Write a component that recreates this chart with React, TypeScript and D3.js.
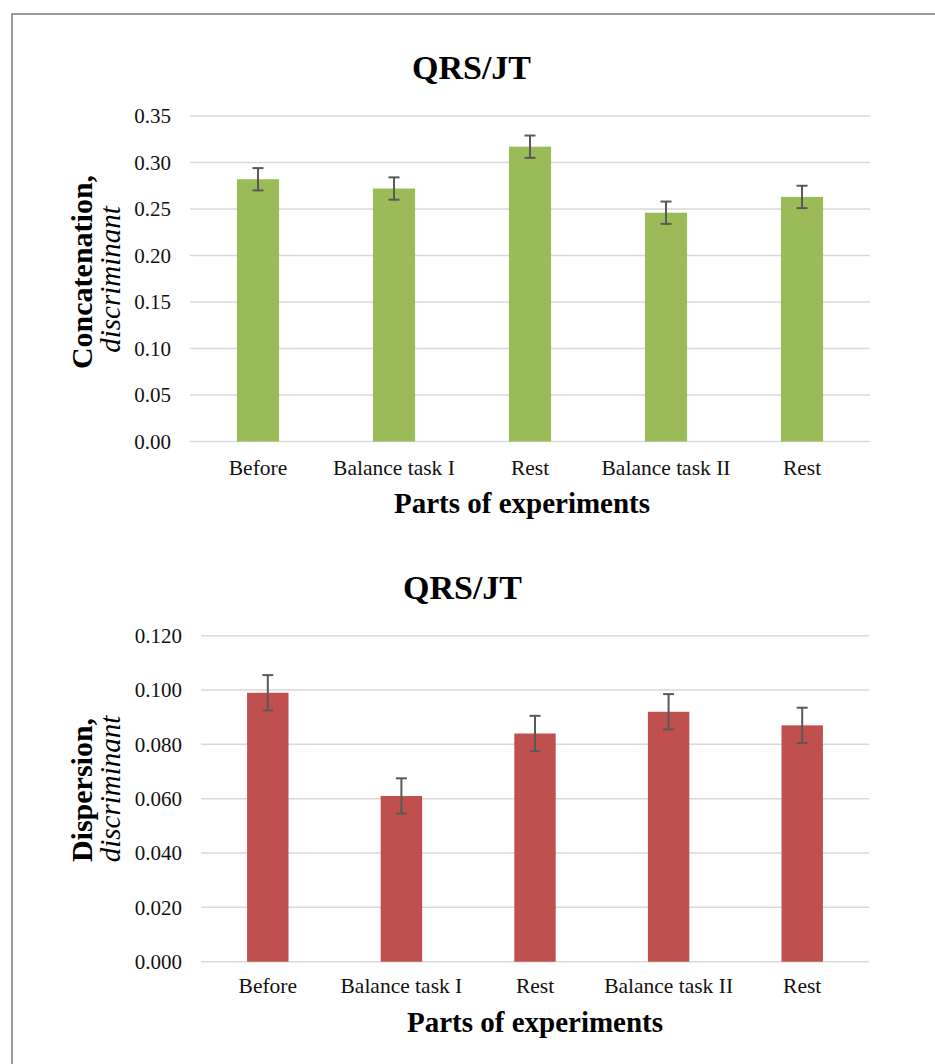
import React from "react";
import * as d3 from "d3";

const categories = ["Before", "Balance task I", "Rest", "Balance task II", "Rest"];
const concatValues = [0.282, 0.272, 0.317, 0.246, 0.263];
const concatErrors = [0.012, 0.012, 0.012, 0.012, 0.012];
const concatTicks = [0, 0.05, 0.1, 0.15, 0.2, 0.25, 0.3, 0.35];
const dispValues = [0.099, 0.061, 0.084, 0.092, 0.087];
const dispErrors = [0.0065, 0.0065, 0.0065, 0.0065, 0.0065];
const dispTicks = [0, 0.02, 0.04, 0.06, 0.08, 0.1, 0.12];

const FONT = "'Liberation Serif', 'Times New Roman', serif";

type PanelProps = {
  values: number[];
  errors: number[];
  ticks: number[];
  yMax: number;
  fmt: (v: number) => string;
  color: string;
  x0: number;
  x1: number;
  yTop: number;
  yBottom: number;
  title: string;
  titleX: number;
  titleY: number;
  yTitle1: string;
  yTitle1C: number;
  yTitle2C: number;
  yTitleX1: number;
  yTitleX2: number;
  tickRight: number;
  catY: number;
  xTitleX: number;
  xTitleY: number;
};

function Panel(p: PanelProps) {
  const x = d3
    .scaleBand<number>()
    .domain(d3.range(categories.length))
    .range([p.x0, p.x1])
    .paddingInner(0.69)
    .paddingOuter(0.345);
  const y = d3.scaleLinear().domain([0, p.yMax]).range([p.yBottom, p.yTop]);
  const bw = x.bandwidth();
  const cap = 5.5;
  return (
    <g>
      <text x={p.titleX} y={p.titleY} textAnchor="middle" fontFamily={FONT} fontWeight="bold" fontSize={34} fill="#000">
        {p.title}
      </text>
      {p.ticks.map((t) => (
        <g key={t}>
          <line x1={p.x0} x2={p.x1} y1={y(t)} y2={y(t)} stroke="#d9d9d9" strokeWidth={1.5} />
          <text x={p.tickRight} y={y(t)} dy="0.35em" textAnchor="end" fontFamily={FONT} fontSize={21} fill="#111">
            {p.fmt(t)}
          </text>
        </g>
      ))}
      {p.values.map((v, i) => {
        const cx = (x(i) as number) + bw / 2;
        const e = p.errors[i];
        return (
          <g key={i}>
            <rect x={x(i)} y={y(v)} width={bw} height={y(0) - y(v)} fill={p.color} />
            <line x1={cx} x2={cx} y1={y(v + e)} y2={y(v - e)} stroke="#595959" strokeWidth={2} />
            <line x1={cx - cap} x2={cx + cap} y1={y(v + e)} y2={y(v + e)} stroke="#595959" strokeWidth={2} />
            <line x1={cx - cap} x2={cx + cap} y1={y(v - e)} y2={y(v - e)} stroke="#595959" strokeWidth={2} />
            <text x={cx} y={p.catY} textAnchor="middle" fontFamily={FONT} fontSize={21.5} fill="#111">
              {categories[i]}
            </text>
          </g>
        );
      })}
      <text x={p.xTitleX} y={p.xTitleY} textAnchor="middle" fontFamily={FONT} fontWeight="bold" fontSize={29} fill="#000">
        Parts of experiments
      </text>
      <text
        transform={`translate(${p.yTitleX1},${p.yTitle1C}) rotate(-90)`}
        textAnchor="middle"
        fontFamily={FONT}
        fontWeight="bold"
        fontSize={30}
        fill="#000"
      >
        {p.yTitle1}
      </text>
      <text
        transform={`translate(${p.yTitleX2},${p.yTitle2C}) rotate(-90)`}
        textAnchor="middle"
        fontFamily={FONT}
        fontStyle="italic"
        fontSize={29}
        fill="#000"
      >
        discriminant
      </text>
    </g>
  );
}

export default function App() {
  return (
    <svg
      width={935}
      height={1064}
      style={{ position: "absolute", left: 0, top: 0, background: "#fff" }}
    >
      <rect x={0} y={0} width={935} height={1064} fill="#fff" />
      <rect x={12} y={14} width={940} height={1080} fill="none" stroke="#7a7a7a" strokeWidth={1.5} />
      <Panel
        values={concatValues}
        errors={concatErrors}
        ticks={concatTicks}
        yMax={0.35}
        fmt={(v) => d3.format(".2f")(v)}
        color="#9bbb59"
        x0={190}
        x1={870}
        yTop={116}
        yBottom={441.5}
        title="QRS/JT"
        titleX={471.5}
        titleY={79}
        yTitle1="Concatenation,"
        yTitle1C={272}
        yTitle2C={279.5}
        yTitleX1={92}
        yTitleX2={120}
        tickRight={171}
        catY={475}
        xTitleX={522}
        xTitleY={513}
      />
      <Panel
        values={dispValues}
        errors={dispErrors}
        ticks={dispTicks}
        yMax={0.12}
        fmt={(v) => d3.format(".3f")(v)}
        color="#c0504d"
        x0={201}
        x1={869}
        yTop={635.7}
        yBottom={961.7}
        title="QRS/JT"
        titleX={462.5}
        titleY={599}
        yTitle1="Dispersion,"
        yTitle1C={790}
        yTitle2C={789}
        yTitleX1={92}
        yTitleX2={120}
        tickRight={182}
        catY={993}
        xTitleX={535}
        xTitleY={1032}
      />
    </svg>
  );
}
